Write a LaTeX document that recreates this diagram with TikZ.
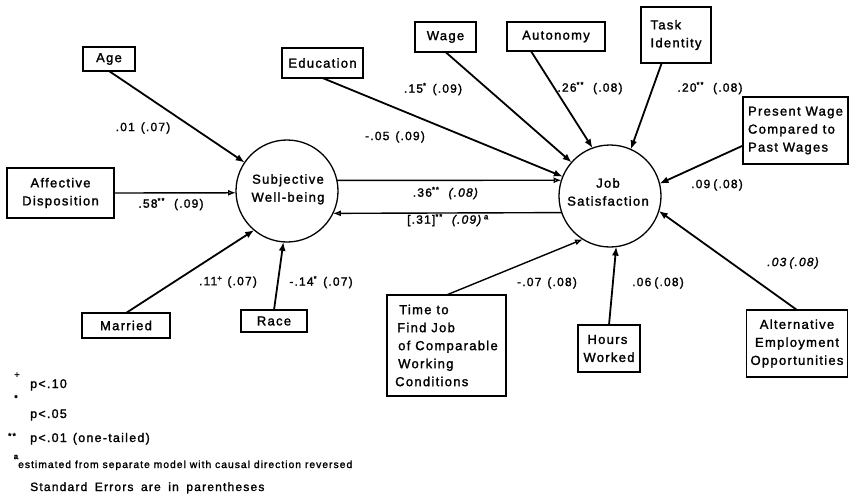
\documentclass[tikz,border=0pt]{standalone}
\usepackage{fontspec}
\setmainfont{Liberation Sans}[LetterSpace=10, FakeBold=1.6]
\usetikzlibrary{arrows.meta}

\begin{document}
\begin{tikzpicture}[x=1pt,y=-1pt,
  box/.style={draw, line width=1.3pt, inner sep=0pt, outer sep=0pt,
    font=\fontsize{13}{18}\selectfont, align=center},
  latent/.style={draw, circle, line width=1.3pt, minimum size=102pt,
    inner sep=0pt, outer sep=0pt},
  intext/.style={font=\fontsize{13}{18}\selectfont, align=center, inner sep=0pt},
  effect/.style={line width=1.8pt, -{Latex[length=9pt,width=7pt]}},
  effectopen/.style={line width=1.4pt, -{Latex[open,length=8pt,width=6pt]}},
  coef/.style={font=\fontsize{12}{14}\selectfont, inner sep=0pt},
  legend/.style={font=\fontsize{12.5}{14}\selectfont, inner sep=0pt, anchor=base west},
  sigmark/.style={font=\fontsize{9}{9}\selectfont, inner sep=0pt},
]
\useasboundingbox (0,0) rectangle (849,493);

% latent variables
\node[latent] (swb) at (287,191) {};
\node[intext, text depth=0pt] (swbtext) at (288,188)
  {\fontsize{13}{22.5}\selectfont Subjective\\Well-being};
\node[latent] (js) at (610,196) {};
\node[intext] (jstext) at (608,192)
  {\fontsize{13}{26}\selectfont Job\\Satisfaction};

% observed predictors
\node[box, minimum width=52, minimum height=24] (age) at (109,59) {Age};
\node[box, minimum width=107, minimum height=50] (aff) at (60.5,193)
  {\fontsize{13}{19}\selectfont Affective\\Disposition};
\node[box, minimum width=88, minimum height=25] (married) at (126,325.5) {Married};
\node[box, minimum width=66, minimum height=22] (race) at (274,321) {Race};
\node[box, minimum width=81, minimum height=30] (edu) at (322.5,63) {Education};
\node[box, minimum width=61, minimum height=30] (wage) at (445.5,37) {Wage};
\node[box, minimum width=98, minimum height=29] (aut) at (556,36.5) {Autonomy};
\node[box, minimum width=70, minimum height=56, align=left] (task) at (676,35)
  {\fontsize{13}{20}\selectfont Task\\Identity};
\node[box, minimum width=105, minimum height=67, align=left] (pw) at (795.5,130.5)
  {\fontsize{13}{21}\selectfont Present Wage\\Compared to\\Past Wages};
\node[box, minimum width=119, minimum height=101, align=left] (time) at (446.5,345.5)
  {\fontsize{13}{18}\selectfont \hspace{4pt}Time to\\\hspace{2pt}Find Job\\
   \hspace{3pt}of Comparable\\\hspace{3pt}Working\\Conditions};
\node[box, minimum width=62, minimum height=47, align=left] (hours) at (609,348.5)
  {\fontsize{13}{16}\selectfont \hspace{4pt}Hours\\Worked};
\node[box, minimum width=101, minimum height=67] (alt) at (797,343.5)
  {\fontsize{13}{18.5}\selectfont Alternative\\Employment\\Opportunities};

% paths into subjective well-being
\draw[effect] (age.south) -- (swb);
\draw[effectopen] (aff.east) -- (swb.182);
\draw[effect] (married.north) -- (swb.230);
\draw[effect] (race.north) -- (swb.266);

% paths into job satisfaction
\draw[effect] (edu.south) -- (js);
\draw[effect] (wage.south) -- (js);
\draw[effect] (aut.210) -- (js.110);
\draw[effect] (task.243) -- (js.66);
\draw[effect] (pw.196) -- (js.14);
\draw[effect] (alt.north) -- (js.343);
\draw[effect] (hours.north) -- (js.277);
\draw[effectopen] (time.north) -- (js.238);

% reciprocal paths
\draw[effectopen] (swb.12) -- (js.162);
\draw[effectopen] (js.199) -- (swb.334);

% coefficients (standard errors)
\node[coef] (c-age) at (143,128) {.01\hspace{6pt}(.07)};
\node[coef] (c-aff) at (171,204) {.58\textsuperscript{**}\hspace{9pt}(.09)};
\node[coef] (c-mar) at (228,282) {.11\textsuperscript{+}\hspace{5pt}(.07)};
\node[coef] (c-race) at (321,282) {-.14\textsuperscript{*}\hspace{6pt}(.07)};
\node[coef] (c-edu) at (395,137) {-.05\hspace{6pt}(.09)};
\node[coef] (c-wage) at (433,89) {.15\textsuperscript{*}\hspace{6pt}(.09)};
\node[coef] (c-aut) at (590,88) {.26\textsuperscript{**}\hspace{9pt}(.08)};
\node[coef] (c-task) at (710,88) {.20\textsuperscript{**}\hspace{9pt}(.08)};
\node[coef] (c-pw) at (717,185) {.09\hspace{3pt}(.08)};
\node[coef] (c-sj) at (446,193) {.36\textsuperscript{**}\hspace{9pt}\textit{(.08)}};
\node[coef] (c-js) at (448,220)
  {[.31]\textsuperscript{**}\hspace{9pt}\textit{(.09)}\textsuperscript{\,a}};
\node[coef] (c-time) at (547,283) {-.07\hspace{6pt}(.08)};
\node[coef] (c-hours) at (658,283) {.06\hspace{3pt}(.08)};
\node[coef] (c-alt) at (793,263) {\itshape .03\hspace{3pt}(.08)};

% legend
\node[sigmark] (m1) at (17,375) {+};
\node[legend] (lg1) at (30,388) {p<.10};
\node[sigmark] (m2) at (16,398) {*};
\node[legend] (lg2) at (30,418) {p<.05};
\node[sigmark] (m3) at (12,436) {**};
\node[legend] (lg3) at (30,442) {p<.01\hspace{6pt}(one-tailed)};
\node[sigmark, font=\fontsize{8}{8}\bfseries] (m4) at (16,457) {a};
\node[legend, font=\fontsize{10.3}{12}\selectfont] (lg4) at (18,468)
  {estimated from separate model with causal direction reversed};
\node[legend, font=\fontsize{12}{14}\selectfont] (lg5) at (30,491)
  {Standard\hspace{3pt} Errors\hspace{3pt} are\hspace{3pt} in\hspace{3pt} parentheses};
\end{tikzpicture}
\end{document}
